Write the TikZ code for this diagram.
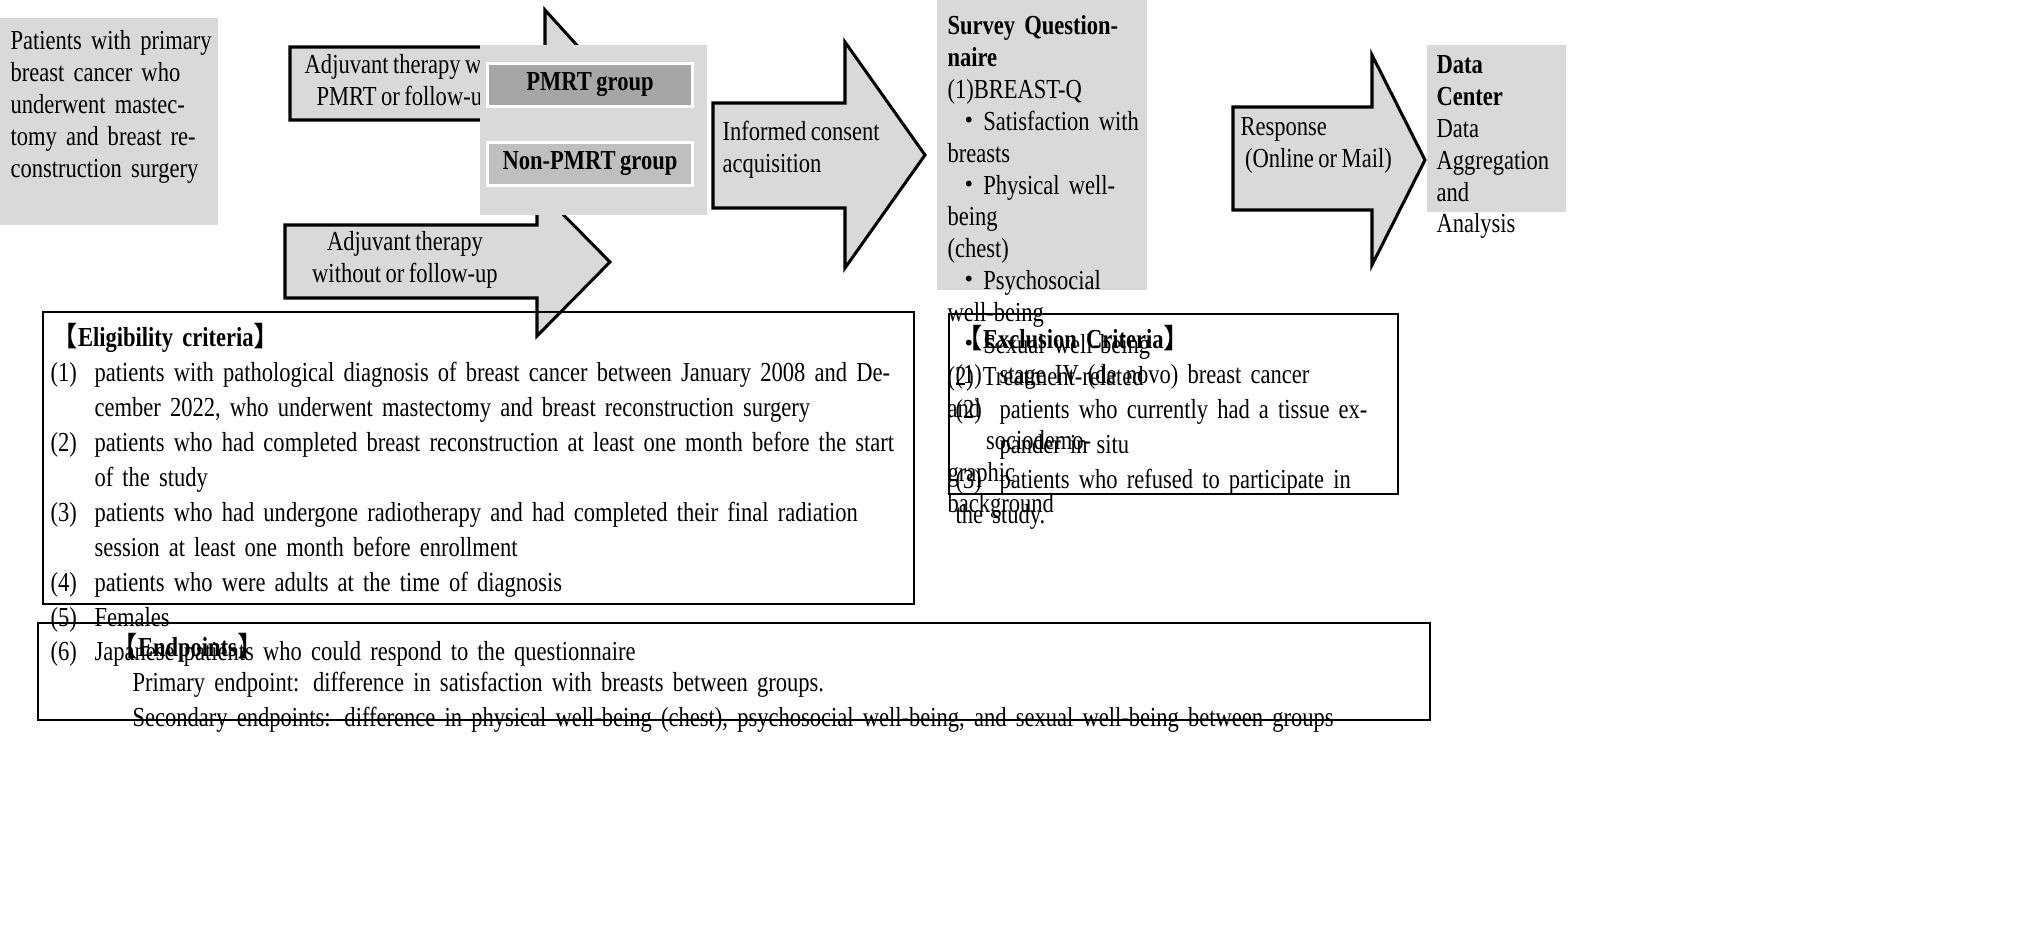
\documentclass[tikz,border=0pt]{standalone}
\usepackage{fontspec}
\setmainfont{Liberation Serif}[FakeStretch=0.82,WordSpace=0.8]
\newfontfamily\cjk{Noto Sans CJK JP}
\usetikzlibrary{positioning}
\newcommand{\itm}[2]{\par\noindent\hangindent=1.6em\hangafter=1\makebox[1.6em][l]{#1}#2}
\newcommand{\bul}{\hspace*{0.3em}{\cjk ・}}

\begin{document}
\begin{tikzpicture}[x=0.01278cm,y=-0.01278cm,font=\fontsize{10}{11.6}\selectfont,
    blk/.style={fill=black!15,draw=black,line width=1.1pt},
    grp/.style={draw=white,line width=1pt,minimum width=2.63cm,minimum height=0.524cm,font=\fontsize{10}{12}\selectfont\bfseries},
    frm/.style={draw=black,line width=0.6pt},
    crit/.style={anchor=north west,align=left,inner sep=0pt,font=\fontsize{10}{12.7}\selectfont}]
  \useasboundingbox (0,0) rectangle (2034,936);
  % top row
  \fill[black!15] (0,18) rectangle (218,225);
  \node[anchor=north west,text width=2.6cm,align=left,inner sep=0pt] (pat) at (10,30)
    {Patients with primary breast cancer who underwent mastectomy and breast reconstruction surgery};
  \draw[blk] (290,47) -- (545,47) -- (545,10) -- (613,85) -- (545,160) -- (545,120) -- (290,120) -- cycle;
  \node[align=center] (adj1) at (405,83) {Adjuvant therapy with\\PMRT or follow-up};
  \draw[blk] (285,225) -- (537,225) -- (537,188) -- (610,262) -- (537,336) -- (537,298) -- (285,298) -- cycle;
  \node[align=center] (adj2) at (405,260) {Adjuvant therapy\\without or follow-up};
  \fill[black!15] (480,45) rectangle (707,215);
  \node[grp,fill=black!35] (pm) at (590,85) {PMRT group};
  \node[grp,fill=black!25] (npm) at (590,164) {Non-PMRT group};
  \draw[blk] (713,103) -- (845,103) -- (845,42) -- (925,155) -- (845,268) -- (845,208) -- (713,208) -- cycle;
  \node[anchor=west,align=left,inner sep=0pt] (ic) at (722,150) {Informed consent\\acquisition};
  \fill[black!15] (937,0) rectangle (1147,290);
  \node[anchor=north west,text width=2.6cm,align=left,inner sep=0pt] (sq) at (947,15)
    {\textbf{Survey Questionnaire}\par
     (1)BREAST-Q\par
     \bul Satisfaction with breasts\par
     \bul Physical well-being\par
     (chest)\par
     \bul Psychosocial well-being\par
     \bul Sexual well-being\par
     (2) Treatment-related and\par
     \hspace*{1.4em}sociodemographic\par
     background};
  \draw[blk] (1233,107) -- (1372,107) -- (1372,55) -- (1425,160) -- (1372,265) -- (1372,210) -- (1233,210) -- cycle;
  \node[anchor=west,align=left,inner sep=0pt] (rsp) at (1240,145) {Response\\ \ (Online or Mail)};
  \fill[black!15] (1427,45) rectangle (1566,212);
  \node[anchor=north west,text width=1.66cm,align=left,inner sep=0pt] (dc) at (1436,55)
    {\textbf{Data}\par\textbf{Center}\par Data\par Aggregation\par and\par Analysis};
  % criteria
  \draw[frm] (43,312) rectangle (914,604);
  \node[crit,text width=10.95cm] (elig) at (50,323)
    {{\cjk 【}\textbf{Eligibility criteria}{\cjk 】}
     \itm{(1)}{patients with pathological diagnosis of breast cancer between January 2008 and December 2022, who underwent mastectomy and breast reconstruction surgery}
     \itm{(2)}{patients who had completed breast reconstruction at least one month before the start of the study}
     \itm{(3)}{patients who had undergone radiotherapy and had completed their final radiation session at least one month before enrollment}
     \itm{(4)}{patients who were adults at the time of diagnosis}
     \itm{(5)}{Females}
     \itm{(6)}{Japanese patients who could respond to the questionnaire}};
  \draw[frm] (949,314) rectangle (1398,494);
  \node[crit,text width=5.5cm] (excl) at (955,325)
    {{\cjk 【}\textbf{Exclusion Criteria}{\cjk 】}
     \itm{(1)}{stage IV (de novo) breast cancer}
     \itm{(2)}{patients who currently had a tissue expander in situ}
     \itm{(3)}{patients who refused to participate in the study.}};
  \draw[frm] (38,623) rectangle (1430,720);
  \node[crit,text width=16.6cm] (endp) at (110,633)
    {{\cjk 【}\textbf{Endpoints}{\cjk 】}\par
     \hspace*{0.8em}Primary endpoint: difference in satisfaction with breasts between groups.\par
     \hspace*{0.8em}Secondary endpoints: difference in physical well-being (chest), psychosocial well-being, and sexual well-being between groups};
\end{tikzpicture}
\end{document}
